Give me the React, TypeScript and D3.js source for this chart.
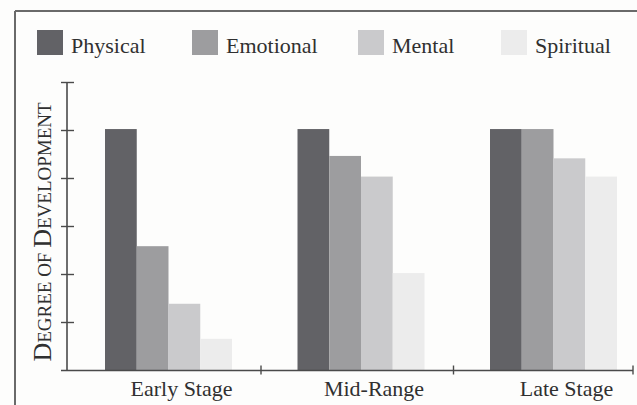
import React from "react";
import * as d3 from "d3";

const stages = ["Early Stage", "Mid-Range", "Late Stage"];
const seriesNames = ["Physical", "Emotional", "Mental", "Spiritual"];
const physical = [5.03, 5.03, 5.03];
const emotional = [2.59, 4.47, 5.03];
const mental = [1.39, 4.04, 4.42];
const spiritual = [0.66, 2.03, 4.04];
const yTicks = [0, 1, 2, 3, 4, 5, 6];

const seriesValues = [physical, emotional, mental, spiritual];
const colors = ["#626266", "#9d9d9f", "#cacacc", "#ececec"];

const W = 637;
const H = 405;
const font = "'Liberation Serif', 'DejaVu Serif', serif";

const App = () => {
  const x0 = d3.scaleBand().domain(stages).range([68.5, 646]).padding(0);
  const x1 = d3
    .scaleBand()
    .domain(seriesNames)
    .range([36.5, 36.5 + 127])
    .padding(0);
  const y = d3.scaleLinear().domain([0, 6]).range([370.5, 82.5]);

  const axisColor = "#4a4a4a";
  const textColor = "#303030";

  // legend positions (x of swatch)
  const legendX = [37, 192, 358, 501];

  return (
    <div>
      <style>{`body{margin:0;background:#fff}`}</style>
      <svg width={W} height={H} style={{ display: "block", background: "#fdfdfc" }}>
        {/* frame */}
        <line x1={15} x2={W} y1={11} y2={11} stroke="#6a6a6a" strokeWidth={2} />
        <line x1={15} x2={15} y1={11} y2={H} stroke="#6a6a6a" strokeWidth={2} />

        {/* legend */}
        {seriesNames.map((s, i) => (
          <g key={s}>
            <rect x={legendX[i]} y={30} width={26} height={25} fill={colors[i]} />
            <text
              x={legendX[i] + 34}
              y={53}
              fontFamily={font}
              fontSize={22}
              fill={textColor}
            >
              {s}
            </text>
          </g>
        ))}

        {/* bars */}
        {stages.map((st, gi) => (
          <g key={st} transform={`translate(${x0(st)},0)`}>
            {seriesNames.map((s, si) => {
              const v = seriesValues[si][gi];
              return (
                <rect
                  key={s}
                  x={x1(s)}
                  y={y(v)}
                  width={x1.bandwidth()}
                  height={y(0) - y(v)}
                  fill={colors[si]}
                />
              );
            })}
          </g>
        ))}

        {/* y axis */}
        <line x1={67} x2={67} y1={y(6)} y2={y(0)} stroke={axisColor} strokeWidth={1.6} />
        {yTicks.slice(1).map(t => (
          <line
            key={t}
            x1={61}
            x2={74}
            y1={y(t)}
            y2={y(t)}
            stroke={axisColor}
            strokeWidth={1.4}
          />
        ))}

        {/* x axis */}
        <line x1={61} x2={633} y1={y(0)} y2={y(0)} stroke={axisColor} strokeWidth={1.6} />
        {stages.map(st => {
          const xt = Math.min((x0(st) as number) + x0.bandwidth(), 633);
          return (
            <line
              key={st}
              x1={xt}
              x2={xt}
              y1={y(0) - 5}
              y2={y(0) + 4}
              stroke={axisColor}
              strokeWidth={1.4}
            />
          );
        })}

        {/* category labels */}
        {stages.map(st => (
          <text
            key={st}
            x={(x0(st) as number) + 113}
            y={396}
            textAnchor="middle"
            fontFamily={font}
            fontSize={22}
            fill={textColor}
          >
            {st}
          </text>
        ))}

        {/* y axis title in small caps */}
        <text
          transform={`translate(51,${232}) rotate(-90)`}
          textAnchor="middle"
          fontFamily={font}
          fill={textColor}
        >
          <tspan fontSize={26}>D</tspan>
          <tspan fontSize={19}>EGREE OF </tspan>
          <tspan fontSize={26}>D</tspan>
          <tspan fontSize={19}>EVELOPMENT</tspan>
        </text>
      </svg>
    </div>
  );
};

export default App;
